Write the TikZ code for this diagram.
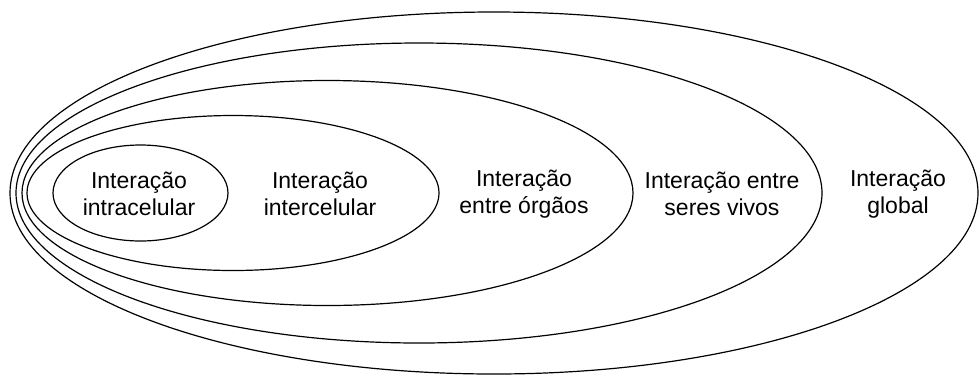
\documentclass[tikz,border=0pt]{standalone}
\usepackage{fontspec}
\setmainfont{Liberation Sans}
\begin{document}
\begin{tikzpicture}[
        x=1pt,y=-1pt,
        ring/.style={line width=1.2pt},
        lbl/.style={align=center,font=\fontsize{23}{26.5}\selectfont}
    ]
    \useasboundingbox (0,0) rectangle (979,376);

    \foreach \cx/\rx/\ry in {494/484/181,419/403/150,327.5/305.5/112.5,233/206/77.5,140.5/87.5/48} {
        \draw [ring] (\cx,193) ellipse [x radius=\rx, y radius=\ry];
    }

    \node[lbl] (intra)  at (139,194) {Interação\\intracelular};
    \node[lbl] (inter)  at (320,194) {Interação\\intercelular};
    \node[lbl] (orgaos) at (524,194) {Interação\\entre órgãos};
    \node[lbl] (seres)  at (722,194) {Interação entre\\seres vivos};
    \node[lbl] (global) at (898,194) {Interação\\global};
\end{tikzpicture}
\end{document}
